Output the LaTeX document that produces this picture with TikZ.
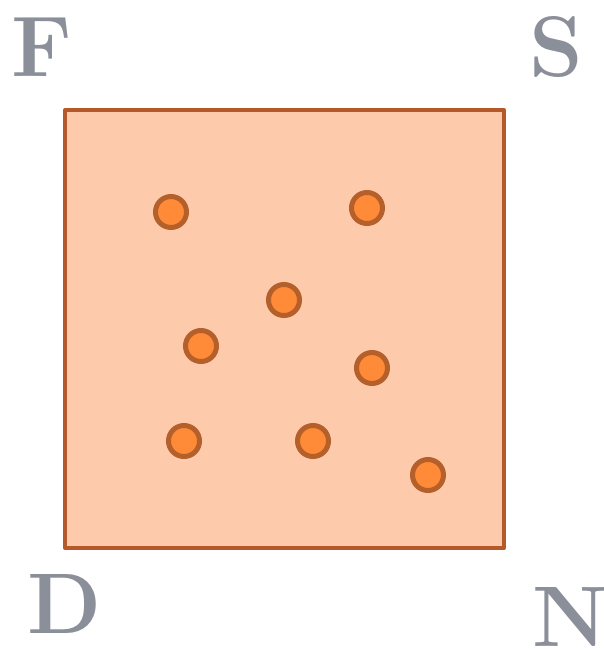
\documentclass[tikz,border=0pt]{standalone}
\definecolor{boxfill}{HTML}{FDCAAB}
\definecolor{boxline}{HTML}{B5592A}
\definecolor{dotfill}{HTML}{FF8B38}
\definecolor{dotline}{HTML}{B5602A}
\definecolor{lettergray}{HTML}{8A8F99}
\tikzset{
  corner/.style={inner sep=0pt, anchor=base, text=lettergray, font=\fontsize{86}{86}\selectfont\bfseries},
  pt/.style={circle, draw=dotline, fill=dotfill, line width=5pt, minimum size=31pt, inner sep=0pt},
  field/.style={draw=boxline, fill=boxfill, line width=4pt, line join=round}
}
\begin{document}
\begin{tikzpicture}[x=1pt,y=-1pt]
\useasboundingbox (0,0) rectangle (604,649);
\draw[field] (65,110) rectangle (504,548);
\node[pt] (p1) at (171,212) {};
\node[pt] (p2) at (367,208) {};
\node[pt] (p3) at (284,300) {};
\node[pt] (p4) at (201,346) {};
\node[pt] (p5) at (372,368) {};
\node[pt] (p6) at (184,441) {};
\node[pt] (p7) at (313,441) {};
\node[pt] (p8) at (428,475) {};
\node[corner] (F) at (42,76) {F};
\node[corner] (S) at (556,76) {S};
\node[corner] (D) at (65,633) {D};
\node[corner] (N) at (570,646) {N};
\end{tikzpicture}
\end{document}
